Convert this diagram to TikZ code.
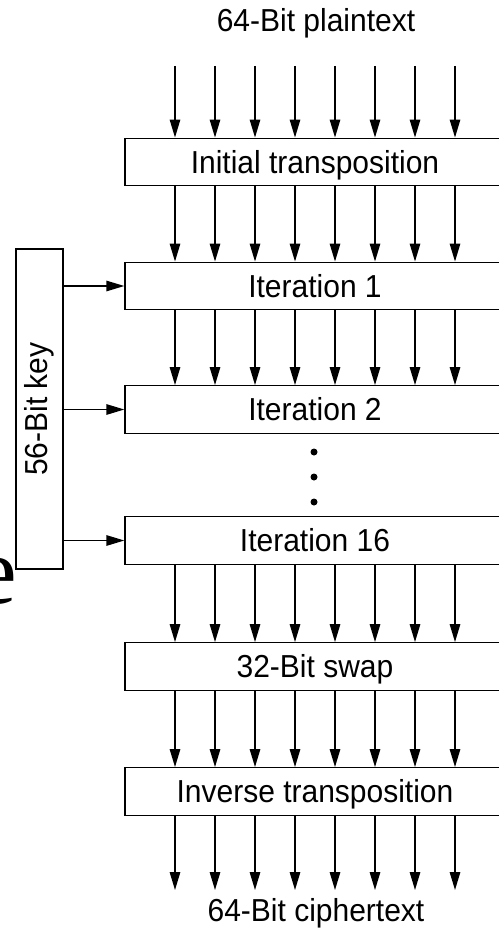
\documentclass[tikz,border=0pt]{standalone}
\usepackage{fontspec}
\setmainfont{Liberation Sans}
\newfontfamily\strayfont{Liberation Serif}
\usetikzlibrary{arrows.meta}
\newcommand{\tall}[1]{\scalebox{1}[1.06]{#1}}
\begin{document}
\begin{tikzpicture}[x=1pt,y=-1pt,
  lw/.style={line width=1.4pt},
  stage/.style={draw, lw, minimum width=380pt, minimum height=47.5pt, inner sep=0pt,
     font=\fontsize{30}{31}\selectfont, text height=22.7pt, text depth=0pt},
  keybox/.style={draw, lw, minimum width=47pt, minimum height=320pt, inner sep=0pt,
     font=\fontsize{30}{31}\selectfont},
  lbl/.style={anchor=base, inner sep=0pt, font=\fontsize{30}{31}\selectfont},
  arr/.style={lw, -{Triangle[length=18pt,width=10.5pt]}}
]
\useasboundingbox (0,0) rectangle (498,936);
\fill[white] (0,0) rectangle (498,936);

% stray glyph
\node[anchor=base east, inner sep=0pt, font=\strayfont\fontsize{96}{96}\selectfont] (stray) at (17,603) {e};

% labels
\node[lbl] (plain) at (316,32) {\tall{64-Bit plaintext}};
\node[lbl] (cipher) at (316,921.5) {\tall{64-Bit ciphertext}};

% stages
\node[stage] (init) at (315,162) {\tall{Initial transposition}};
\node[stage] (it1) at (315,286) {\tall{Iteration 1}};
\node[stage] (it2) at (315,409.5) {\tall{Iteration 2}};
\node[stage] (it16) at (315,540.5) {\tall{Iteration 16}};
\node[stage] (swap) at (315,666.5) {\tall{32-Bit swap}};
\node[stage] (inv) at (315,791.5) {\tall{Inverse transposition}};

% key
\node[keybox] (key) at (39.5,409) {\rotatebox{90}{\tall{56-Bit key}}};

% columns
\foreach \i in {0,...,7}{
  \coordinate (c\i) at (175+40*\i,0);
  \coordinate (top\i) at (175+40*\i,66);
  \coordinate (bot\i) at (175+40*\i,890);
  \draw[arr] (top\i) -- (init.north -| c\i);
  \draw[arr] (init.south -| c\i) -- (it1.north -| c\i);
  \draw[arr] (it1.south -| c\i) -- (it2.north -| c\i);
  \draw[arr] (it16.south -| c\i) -- (swap.north -| c\i);
  \draw[arr] (swap.south -| c\i) -- (inv.north -| c\i);
  \draw[arr] (inv.south -| c\i) -- (bot\i);
}

% key arrows
\draw[arr] (key.east |- it1.west) -- (it1.west);
\draw[arr] (key.east |- it2.west) -- (it2.west);
\draw[arr] (key.east |- it16.west) -- (it16.west);

% dots
\foreach \y in {452,477,502}{
  \fill (314,\y) circle (3.5pt);
}
\end{tikzpicture}
\end{document}
